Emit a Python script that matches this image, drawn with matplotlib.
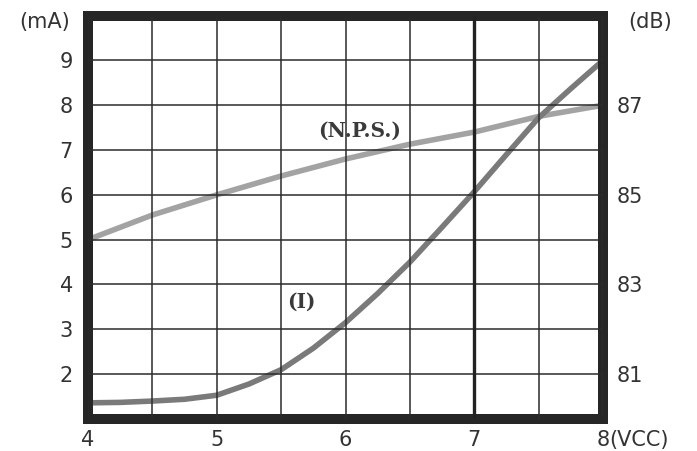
import matplotlib
matplotlib.use("Agg")
import matplotlib.pyplot as plt

# ---- data ----
vcc = [4.0, 4.25, 4.5, 4.75, 5.0, 5.25, 5.5, 5.75, 6.0, 6.25, 6.5, 6.75, 7.0, 7.25, 7.5, 7.75, 8.0]
current_ma = [1.36, 1.37, 1.40, 1.44, 1.53, 1.78, 2.10, 2.58, 3.15, 3.80, 4.50, 5.28, 6.07, 6.90, 7.72, 8.37, 9.00]

vcc_nps = [4.0, 4.5, 5.0, 5.5, 6.0, 6.5, 7.0, 7.5, 8.0]
nps_db = [84.0, 84.55, 85.0, 85.42, 85.8, 86.13, 86.4, 86.75, 87.0]

x_ticks = [4, 5, 6, 7, 8]
x_minor = [4.5, 5.5, 6.5, 7.5]
ma_ticks = [2, 3, 4, 5, 6, 7, 8, 9]
db_ticks = [81, 83, 85, 87]

txt_color = "#333333"
plt.rcParams["font.family"] = ["DejaVu Sans"]

fig = plt.figure(figsize=(6.97, 4.51), dpi=100)
ax = fig.add_axes([0.1263, 0.071, 0.7389, 0.8946])
ax2 = ax.twinx()

ax.set_xlim(4, 8)
ax.set_ylim(1, 10)
ax2.set_ylim(80, 89)

# layering: ax (I curve + grid) above ax2 (NPS)
ax.set_zorder(ax2.get_zorder() + 1)
ax.patch.set_visible(False)
ax.set_axisbelow(False)

ax2.plot(vcc_nps, nps_db, color="#a3a3a3", lw=4.0, solid_capstyle="butt", zorder=2)
ax.plot(vcc, current_ma, color="#7a7a7a", lw=4.0, solid_capstyle="butt", zorder=2)

ax.set_xticks(x_ticks)
ax.set_xticks(x_minor, minor=True)
ax.set_yticks(ma_ticks)
ax2.set_yticks(db_ticks)
ax.grid(True, which="both", axis="x", color="#2b2b2b", lw=1.1)
ax.grid(True, which="major", axis="y", color="#2b2b2b", lw=1.1)
ax.axvline(7, color="#222222", lw=2.4, zorder=2.6)

fs = 15
ax.tick_params(axis="both", which="both", length=0, labelsize=fs, labelcolor=txt_color)
ax.tick_params(axis="x", pad=8)
ax.tick_params(axis="y", pad=11)
ax2.tick_params(axis="y", length=0, labelsize=fs, labelcolor=txt_color, pad=10)

for s in ax.spines.values():
    s.set_linewidth(7.2)
    s.set_color("#262626")
    s.set_capstyle("projecting")
for s in ax2.spines.values():
    s.set_visible(False)

ax.annotate("(VCC)", xy=(8, 1), xycoords="data", xytext=(4.5, -8),
            textcoords="offset points", ha="left", va="top",
            fontsize=fs, color=txt_color, annotation_clip=False)

fig.text(45 / 697, 1 - 22 / 451, "(mA)", ha="center", va="center", fontsize=fs, color=txt_color)
fig.text(650 / 697, 1 - 22 / 451, "(dB)", ha="center", va="center", fontsize=fs, color=txt_color)

ax.text(6.11, 7.42, "(N.P.S.)", family="DejaVu Serif", fontweight="bold",
        fontsize=14.5, color="#3a3a3a", ha="center", va="center", zorder=3)
ax.text(5.66, 3.62, "(I)", family="DejaVu Serif", fontweight="bold",
        fontsize=14.5, color="#3a3a3a", ha="center", va="center", zorder=3)

fig.savefig("out.png", dpi=100)
